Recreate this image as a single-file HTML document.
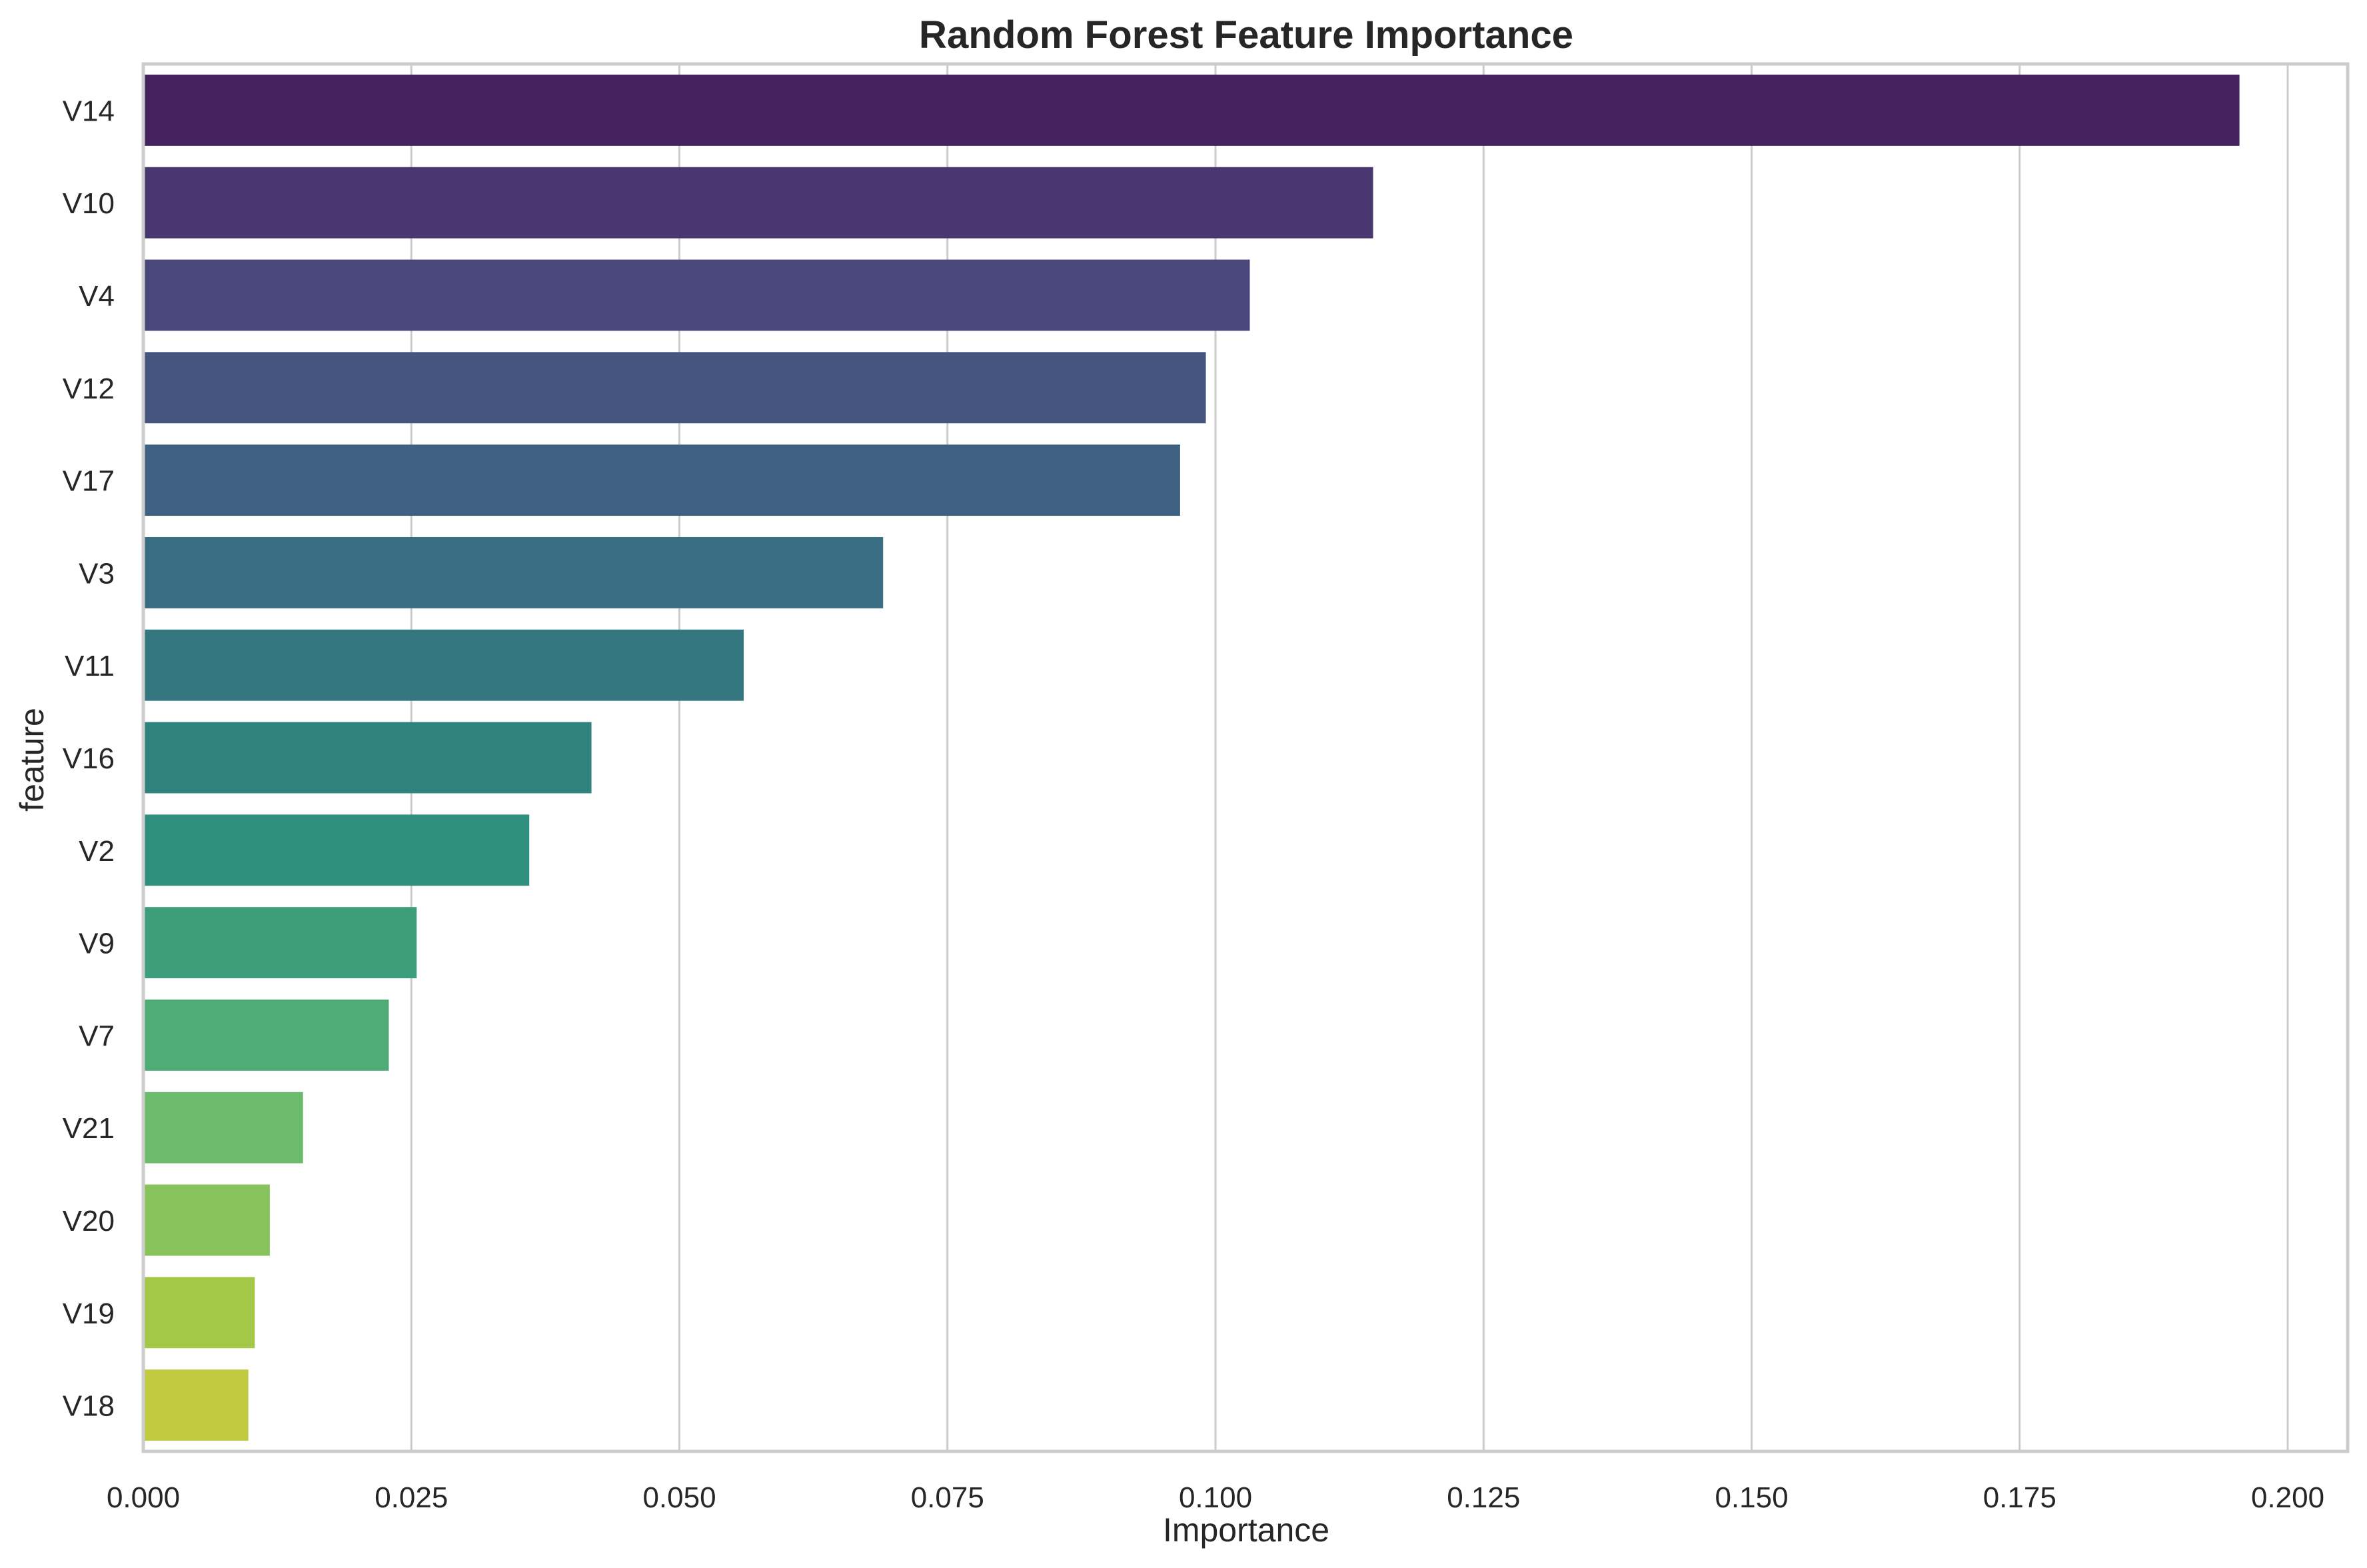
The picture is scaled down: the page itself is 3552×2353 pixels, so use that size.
<!DOCTYPE html>
<html><head><meta charset="utf-8"><style>html,body{margin:0;padding:0;background:#fff}svg{display:block}</style></head>
<body>
<svg id="chart" xmlns="http://www.w3.org/2000/svg" width="3552" height="2353" viewBox="0 0 3552 2353" font-family="'Liberation Sans', Arial, sans-serif">
<rect width="3552" height="2353" fill="#fff"/>
<g id="grid"></g>
<g id="bars"></g>
<g id="spines"></g>
<g id="xticks"></g>
<g id="yticks"></g>
<text x="1870" y="72" text-anchor="middle" font-size="58" font-weight="bold" fill="#262626" textLength="982" lengthAdjust="spacingAndGlyphs">Random Forest Feature Importance</text>
<text x="1870" y="2313" text-anchor="middle" font-size="50" fill="#262626">Importance</text>
<text x="0" y="0" transform="translate(65,1140) rotate(-90)" text-anchor="middle" font-size="50" fill="#262626">feature</text>
</svg>
<script>
const features = ["V14","V10","V4","V12","V17","V3","V11","V16","V2","V9","V7","V21","V20","V19","V18"];
const importances = [0.1955,0.1147,0.1032,0.0991,0.0967,0.0690,0.0560,0.0418,0.0360,0.0255,0.0229,0.0149,0.0118,0.0104,0.0098];
const xTicks = [0,0.025,0.05,0.075,0.1,0.125,0.15,0.175,0.2];
const xTickLabels = ["0.000","0.025","0.050","0.075","0.100","0.125","0.150","0.175","0.200"];

const NS="http://www.w3.org/2000/svg";
const L=215,R=3523,T=96,B=2178;
const x0=215,x02=3433;
function xs(v){return x0+(v/0.2)*(x02-x0);}
const n=features.length;
const step=(B-T)/n;
function yc(i){return T+step*(i+0.5);}
const bh=step*0.77;

const vir=["#440154","#482878","#3e4989","#31688e","#26828e","#1f9e89","#35b779","#6ece58","#b5de2b","#fde725"];
function hex2rgb(h){return [1,3,5].map(k=>parseInt(h.substr(k,2),16)/255);}
function viridis(t){const p=t*9;const i=Math.min(8,Math.floor(p));const f=p-i;const a=hex2rgb(vir[i]),b=hex2rgb(vir[i+1]);return a.map((c,k)=>c+(b[k]-c)*f);}
function desat(rgb,s){const mx=Math.max(...rgb),mn=Math.min(...rgb);const l=(mx+mn)/2;let h=0,sat=0;const d=mx-mn;
 if(d>0){sat=l>0.5?d/(2-mx-mn):d/(mx+mn);
  if(mx===rgb[0])h=((rgb[1]-rgb[2])/d+(rgb[1]<rgb[2]?6:0));else if(mx===rgb[1])h=(rgb[2]-rgb[0])/d+2;else h=(rgb[0]-rgb[1])/d+4;h/=6;}
 sat*=s;const q=l<0.5?l*(1+sat):l+sat-l*sat,p=2*l-q;
 function hue(t){if(t<0)t+=1;if(t>1)t-=1;if(t<1/6)return p+(q-p)*6*t;if(t<1/2)return q;if(t<2/3)return p+(q-p)*(2/3-t)*6;return p;}
 return sat===0?[l,l,l]:[hue(h+1/3),hue(h),hue(h-1/3)];}
function toHex(rgb){return "#"+rgb.map(c=>Math.round(c*255).toString(16).padStart(2,"0")).join("");}

const grid=document.getElementById("grid");
xTicks.forEach((v,i)=>{
 const ln=document.createElementNS(NS,"line");
 
 
 ln.setAttribute("x1",xs(v));ln.setAttribute("x2",xs(v));ln.setAttribute("y1",T);ln.setAttribute("y2",B);
 ln.setAttribute("stroke","#cccccc");ln.setAttribute("stroke-width","3");
 grid.appendChild(ln);
 const t=document.createElementNS(NS,"text");
 
 
 t.setAttribute("x",xs(v));t.setAttribute("y",2262);t.setAttribute("text-anchor","middle");
 t.setAttribute("font-size","44");t.setAttribute("fill","#262626");
 t.textContent=xTickLabels[i];
 document.getElementById("xticks").appendChild(t);
});

const bars=document.getElementById("bars");
features.forEach((f,i)=>{
 const r=document.createElementNS(NS,"rect");
 
 
 r.setAttribute("x",xs(0));r.setAttribute("y",yc(i)-bh/2);
 r.setAttribute("width",xs(importances[i])-xs(0));r.setAttribute("height",bh);
 r.setAttribute("fill",toHex(desat(viridis((i+1)/(n+1)),0.75)));
 bars.appendChild(r);
 const t=document.createElementNS(NS,"text");
 
 
 t.setAttribute("x",172);t.setAttribute("y",yc(i)+16);t.setAttribute("text-anchor","end");
 t.setAttribute("font-size","44");t.setAttribute("fill","#262626");
 t.textContent=f;
 document.getElementById("yticks").appendChild(t);
});

const fr=document.createElementNS(NS,"rect");


fr.setAttribute("x",L);fr.setAttribute("y",T);fr.setAttribute("width",R-L);fr.setAttribute("height",B-T);
fr.setAttribute("fill","none");fr.setAttribute("stroke","#cccccc");fr.setAttribute("stroke-width","5");
document.getElementById("spines").appendChild(fr);
</script>
</body></html>
